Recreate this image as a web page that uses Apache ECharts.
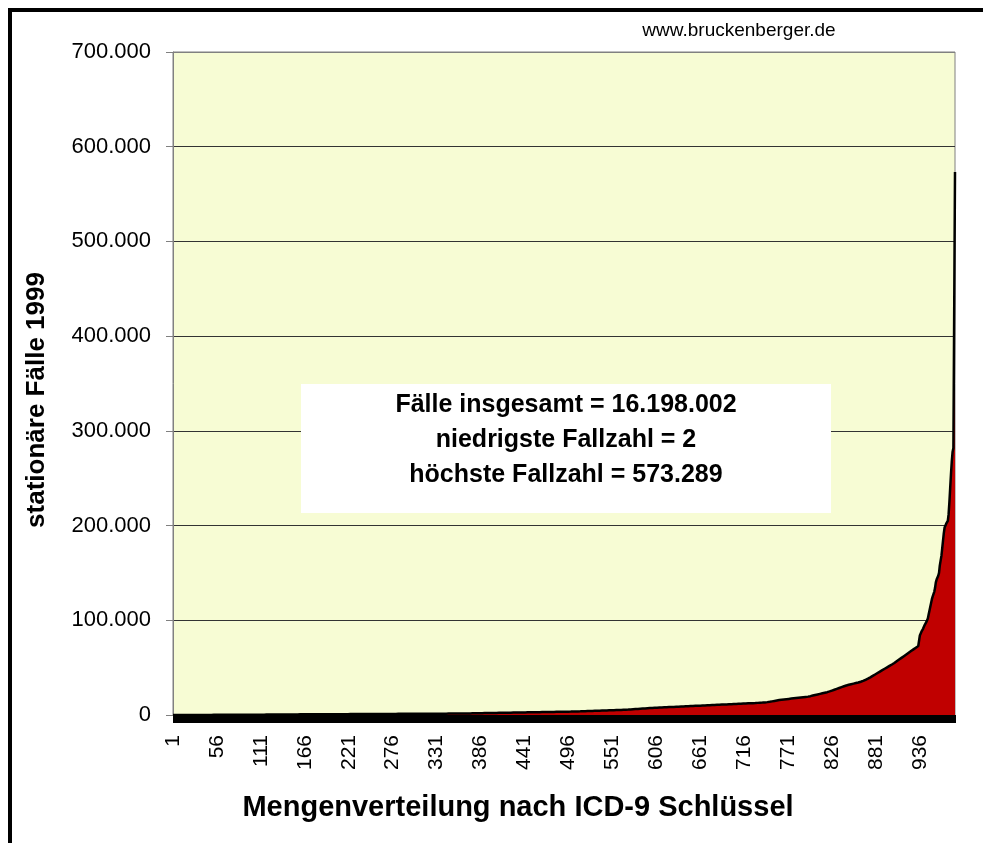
<!DOCTYPE html>
<html>
<head>
<meta charset="utf-8">
<title>stationäre Fälle 1999</title>
<script src="https://cdn.jsdelivr.net/npm/echarts@6/dist/echarts.min.js"></script>
<style>
  html, body { margin: 0; padding: 0; background: #fff; }
  #chart { width: 983px; height: 843px; }
</style>
</head>
<body>
<div id="chart"></div>
<script>
// Fallzahlen je ICD-9 Schlüssel, aufsteigend sortiert
var fallzahlen = [
  2, 3, 4, 5, 6, 7, 8, 9, 10, 12, 13, 15, 16, 18, 20, 22, 25, 28, 31, 35,
  38, 41, 44, 47, 50, 53, 56, 59, 62, 65, 68, 71, 74, 77, 80, 84, 88, 92, 96, 100,
  104, 108, 112, 116, 120, 123, 126, 129, 132, 135, 138, 141, 144, 146, 148, 150, 152, 155, 158, 161,
  164, 168, 172, 176, 180, 184, 188, 192, 196, 200, 204, 208, 212, 216, 220, 225, 230, 235, 240, 245,
  250, 254, 258, 262, 266, 270, 274, 278, 282, 286, 290, 294, 298, 302, 306, 310, 313, 316, 319, 322,
  326, 330, 335, 340, 345, 350, 355, 360, 365, 370, 375, 380, 385, 390, 395, 400, 405, 410, 415, 420,
  426, 432, 438, 444, 450, 456, 462, 468, 474, 480, 486, 492, 498, 504, 510, 516, 522, 528, 534, 540,
  547, 554, 561, 568, 575, 582, 589, 596, 603, 610, 615, 620, 625, 630, 635, 640, 645, 650, 655, 660,
  664, 668, 672, 676, 680, 684, 688, 692, 696, 700, 704, 708, 712, 716, 720, 724, 728, 732, 736, 740,
  744, 748, 752, 756, 760, 764, 768, 772, 776, 780, 784, 788, 792, 796, 800, 804, 808, 812, 816, 820,
  824, 828, 832, 836, 840, 845, 850, 855, 860, 865, 870, 875, 880, 885, 890, 895, 900, 905, 910, 915,
  920, 925, 930, 935, 940, 945, 950, 955, 960, 965, 970, 975, 980, 985, 990, 995, 1000, 1005, 1010, 1015,
  1020, 1024, 1028, 1032, 1036, 1040, 1044, 1048, 1052, 1056, 1060, 1064, 1068, 1072, 1076, 1080, 1084, 1088, 1092, 1096,
  1100, 1104, 1108, 1112, 1116, 1120, 1124, 1128, 1132, 1136, 1140, 1144, 1148, 1152, 1156, 1160, 1164, 1168, 1172, 1176,
  1180, 1184, 1188, 1192, 1196, 1200, 1204, 1208, 1212, 1216, 1220, 1224, 1228, 1232, 1236, 1240, 1244, 1248, 1252, 1256,
  1260, 1264, 1268, 1272, 1276, 1280, 1284, 1288, 1292, 1296, 1300, 1304, 1308, 1312, 1316, 1320, 1324, 1328, 1332, 1336,
  1340, 1345, 1350, 1355, 1360, 1365, 1370, 1375, 1380, 1385, 1390, 1395, 1400, 1405, 1410, 1415, 1420, 1425, 1430, 1435,
  1440, 1445, 1450, 1455, 1460, 1465, 1470, 1475, 1480, 1485, 1490, 1495, 1500, 1505, 1510, 1515, 1520, 1525, 1530, 1535,
  1540, 1546, 1552, 1558, 1564, 1570, 1576, 1582, 1600, 1620, 1640, 1660, 1680, 1700, 1720, 1740, 1760, 1780, 1800, 1820,
  1835, 1850, 1865, 1880, 1895, 1910, 1925, 1940, 1955, 1970, 1985, 2000, 2015, 2030, 2045, 2060, 2075, 2090, 2105, 2120,
  2135, 2150, 2165, 2180, 2195, 2210, 2225, 2240, 2255, 2270, 2285, 2300, 2315, 2330, 2345, 2360, 2375, 2390, 2405, 2420,
  2435, 2450, 2465, 2480, 2495, 2510, 2525, 2540, 2555, 2570, 2585, 2600, 2615, 2630, 2645, 2660, 2675, 2690, 2705, 2720,
  2735, 2750, 2765, 2780, 2795, 2810, 2825, 2840, 2855, 2870, 2885, 2900, 2915, 2930, 2945, 2960, 2975, 2990, 3005, 3020,
  3035, 3050, 3065, 3080, 3095, 3110, 3125, 3140, 3155, 3170, 3185, 3200, 3215, 3230, 3245, 3260, 3275, 3290, 3305, 3320,
  3335, 3350, 3365, 3380, 3395, 3410, 3425, 3440, 3455, 3470, 3485, 3500, 3515, 3530, 3545, 3560, 3575, 3590, 3605, 3620,
  3640, 3660, 3680, 3700, 3720, 3740, 3760, 3780, 3800, 3830, 3860, 3890, 3920, 3950, 3980, 4010, 4040, 4070, 4100, 4130,
  4160, 4190, 4220, 4250, 4280, 4310, 4340, 4370, 4400, 4430, 4460, 4490, 4520, 4550, 4580, 4610, 4640, 4670, 4700, 4730,
  4760, 4790, 4820, 4850, 4880, 4910, 4940, 4970, 5000, 5030, 5060, 5090, 5120, 5150, 5180, 5210, 5240, 5270, 5300, 5330,
  5360, 5390, 5420, 5450, 5480, 5510, 5540, 5570, 5600, 5650, 5700, 5760, 5820, 5880, 5940, 6000, 6060, 6120, 6180, 6240,
  6300, 6360, 6420, 6480, 6540, 6600, 6660, 6720, 6780, 6840, 6900, 6960, 7020, 7080, 7140, 7200, 7260, 7320, 7380, 7440,
  7480, 7520, 7560, 7600, 7640, 7680, 7720, 7760, 7800, 7840, 7880, 7920, 7960, 8000, 8040, 8080, 8120, 8160, 8200, 8240,
  8280, 8320, 8360, 8400, 8440, 8480, 8520, 8560, 8600, 8640, 8680, 8720, 8760, 8800, 8840, 8880, 8920, 8960, 9000, 9040,
  9080, 9120, 9160, 9200, 9240, 9280, 9320, 9360, 9400, 9440, 9480, 9520, 9560, 9600, 9640, 9680, 9720, 9760, 9800, 9840,
  9880, 9920, 9960, 10000, 10040, 10080, 10120, 10160, 10200, 10240, 10280, 10320, 10360, 10400, 10440, 10480, 10520, 10560, 10600, 10640,
  10680, 10720, 10760, 10800, 10840, 10880, 10920, 10960, 11000, 11040, 11080, 11120, 11160, 11200, 11240, 11280, 11320, 11360, 11400, 11440,
  11480, 11520, 11560, 11600, 11640, 11680, 11720, 11760, 11800, 11840, 11880, 11920, 11960, 12000, 12040, 12080, 12120, 12160, 12200, 12240,
  12280, 12320, 12360, 12400, 12440, 12480, 12520, 12560, 12600, 12650, 12700, 12750, 12800, 12850, 12900, 12950, 13000, 13050, 13100, 13150,
  13200, 13300, 13400, 13500, 13600, 13700, 13800, 13950, 14100, 14250, 14400, 14550, 14700, 14850, 15000, 15150, 15300, 15450, 15600, 15750,
  15900, 16000, 16100, 16200, 16300, 16400, 16500, 16600, 16700, 16800, 16900, 17000, 17100, 17200, 17300, 17400, 17500, 17600, 17700, 17800,
  17900, 18000, 18100, 18200, 18300, 18400, 18500, 18600, 18700, 18800, 18900, 19000, 19100, 19200, 19300, 19400, 19500, 19700, 19900, 20100,
  20300, 20500, 20700, 20900, 21100, 21300, 21500, 21700, 21900, 22100, 22300, 22500, 22700, 22900, 23100, 23300, 23500, 23700, 23900, 24100,
  24300, 24600, 24900, 25200, 25500, 25800, 26100, 26400, 26700, 27000, 27300, 27600, 27900, 28200, 28500, 28800, 29100, 29400, 29700, 30000,
  30300, 30600, 30900, 31200, 31500, 31700, 31900, 32100, 32300, 32500, 32700, 32900, 33100, 33300, 33500, 33700, 33900, 34100, 34300, 34500,
  34800, 35100, 35400, 35700, 36000, 36400, 36800, 37200, 37600, 38000, 38400, 38800, 39300, 39800, 40300, 40800, 41300, 41800, 42300, 42800,
  43300, 43800, 44300, 44800, 45300, 45800, 46300, 46800, 47300, 47800, 48300, 48800, 49300, 49800, 50300, 50800, 51300, 51800, 52300, 52800,
  53300, 53800, 54300, 54900, 55500, 56100, 56700, 57300, 57900, 58500, 59100, 59700, 60300, 60900, 61500, 62100, 62700, 63300, 63900, 64500,
  65100, 65700, 66300, 66900, 67500, 68100, 68700, 69300, 69900, 70500, 71100, 71700, 72300, 72900, 73500, 84000, 86000, 88000, 90000, 91000,
  93000, 95000, 97000, 98000, 100000, 102000, 106000, 110000, 114000, 118000, 122000, 125000, 127000, 130000, 134000, 140000, 143000, 145000, 147000, 150000,
  158000, 163000, 168000, 176000, 184000, 192000, 198000, 200000, 202000, 203000, 205000, 212000, 225000, 240000, 255000, 268000, 278000, 282000, 284000, 573289
];

// Kategorien: laufende Nummer 1 .. n
var schluessel = fallzahlen.map(function (v, i) { return String(i + 1); });

// y-Achse
var yMax = 700000;
var yStep = 100000;

// Texte
var yTitel = "stationäre Fälle 1999";
var xTitel = "Mengenverteilung nach ICD-9 Schlüssel";
var quelle = "www.bruckenberger.de";
var infoZeilen = [
  "Fälle insgesamt = 16.198.002",
  "niedrigste Fallzahl = 2",
  "höchste Fallzahl = 573.289"
];

var schrift = "'Liberation Sans', Arial, sans-serif";

// 1.234.567
function tausender(v) {
  return String(v).replace(/\B(?=(\d{3})+(?!\d))/g, ".");
}

var myChart = echarts.init(document.getElementById("chart"));

var option = {
  animation: false,
  backgroundColor: "#fff",
  grid: {
    left: 173,
    right: 28,
    top: 52,
    bottom: 128,
    show: true,
    backgroundColor: "#f7fcd4",
    borderColor: "#808080",
    borderWidth: 1,
  },
  xAxis: {
    type: "category",
    boundaryGap: false,
    data: schluessel,
    axisLine: {
      show: true,
      lineStyle: { color: "#000", width: 1 },
    },
    axisTick: {
      show: true,
      interval: 0,
      length: 8,
      lineStyle: { color: "#000", width: 1 },
    },
    axisLabel: {
      interval: 54,
      rotate: 90,
      margin: 20,
      color: "#000",
      fontFamily: schrift,
      fontSize: 21,
    },
    splitLine: { show: false },
  },
  yAxis: {
    type: "value",
    min: 0,
    max: yMax,
    interval: yStep,
    axisLine: {
      show: true,
      lineStyle: { color: "#808080" },
    },
    axisTick: {
      show: true,
      length: 7,
      lineStyle: { color: "#808080" },
    },
    axisLabel: {
      margin: 22,
      color: "#000",
      fontFamily: schrift,
      fontSize: 22,
      formatter: tausender,
    },
    splitLine: {
      show: true,
      lineStyle: {
        // letzte Linie = Rahmen oben, grau
        color: ["#333", "#333", "#333", "#333", "#333", "#333", "#333", "#808080"],
        width: 1,
      },
    },
  },
  series: [
    {
      name: yTitel,
      type: "line",
      data: fallzahlen,
      symbol: "none",
      sampling: null,
      lineStyle: { color: "#000", width: 2.5 },
      areaStyle: { color: "#c00000", opacity: 1 },
      z: 3,
    },
  ],
  graphic: [
    // Rahmen um das Diagramm
    {
      type: "rect",
      shape: { x: 10, y: 10, width: 1100, height: 1000 },
      style: { fill: "none", stroke: "#000", lineWidth: 4 },
      z: 100,
    },
    {
      type: "text",
      x: 739,
      y: 31,
      style: {
        text: quelle,
        fill: "#000",
        font: "19px " + schrift,
        align: "center",
        verticalAlign: "middle",
      },
      z: 100,
    },
    // Infokasten
    {
      type: "rect",
      shape: { x: 301, y: 384, width: 530, height: 129 },
      style: { fill: "#fff" },
      z: 100,
    },
    {
      type: "text",
      x: 566,
      y: 440,
      style: {
        text: infoZeilen.join("\n"),
        fill: "#000",
        font: "bold 25px " + schrift,
        lineHeight: 35,
        align: "center",
        verticalAlign: "middle",
      },
      z: 101,
    },
    // y-Achsentitel
    {
      type: "text",
      x: 37,
      y: 400,
      rotation: Math.PI / 2,
      style: {
        text: yTitel,
        fill: "#000",
        font: "bold 26px " + schrift,
        align: "center",
        verticalAlign: "middle",
      },
      z: 100,
    },
    // x-Achsentitel
    {
      type: "text",
      x: 518,
      y: 808,
      style: {
        text: xTitel,
        fill: "#000",
        font: "bold 29px " + schrift,
        align: "center",
        verticalAlign: "middle",
      },
      z: 100,
    },
  ],
};

myChart.setOption(option);
window.addEventListener("resize", function () {
  myChart.resize();
});
</script>
</body>
</html>
